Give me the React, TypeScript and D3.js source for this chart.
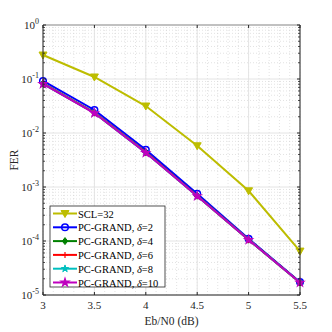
import React from 'react';
import * as d3 from 'd3';

const snr = [3, 3.5, 4, 4.5, 5, 5.5];
const sclFer = [0.278, 0.109, 0.0316, 0.0058, 0.00085, 0.000065];
const grand2 = [0.092, 0.0267, 0.0049, 0.00075, 0.00011, 0.0000174];
const grand4 = [0.083, 0.0238, 0.0044, 0.00069, 0.000106, 0.0000171];
const grand6 = [0.082, 0.0236, 0.0044, 0.00068, 0.000105, 0.000017];
const grand8 = [0.081, 0.0235, 0.0043, 0.00068, 0.000105, 0.000017];
const grand10 = [0.081, 0.0234, 0.0043, 0.00068, 0.000105, 0.000017];
const xTicks = [3, 3.5, 4, 4.5, 5, 5.5];
const yExps = [0, -1, -2, -3, -4, -5];

const series = [
  { name: 'SCL=32', delta: null, values: sclFer, color: '#bdbd00', marker: 'tri' },
  { name: 'PC-GRAND, ', delta: '2', values: grand2, color: '#0000ff', marker: 'circle' },
  { name: 'PC-GRAND, ', delta: '4', values: grand4, color: '#008000', marker: 'diamond' },
  { name: 'PC-GRAND, ', delta: '6', values: grand6, color: '#ff0000', marker: 'plus' },
  { name: 'PC-GRAND, ', delta: '8', values: grand8, color: '#00bfbf', marker: 'star' },
  { name: 'PC-GRAND, ', delta: '10', values: grand10, color: '#bf00bf', marker: 'hex' },
];

const margin = { left: 43, top: 25, right: 32, bottom: 37 };
const W = 332;
const H = 332;
const font = '"Liberation Serif", "Times New Roman", serif';

function Marker({ type, x, y, color }) {
  if (type === 'tri') {
    return <path d={`M${x - 4},${y - 3} L${x + 4},${y - 3} L${x},${y + 4} Z`} fill={color} stroke={color} />;
  }
  if (type === 'circle') {
    return <circle cx={x} cy={y} r={3.3} fill="none" stroke={color} strokeWidth={1.5} />;
  }
  if (type === 'diamond') {
    return <path d={`M${x},${y - 3.5} L${x + 2.7},${y} L${x},${y + 3.5} L${x - 2.7},${y} Z`} fill={color} stroke={color} />;
  }
  if (type === 'plus') {
    return <path d={`M${x - 3},${y} L${x + 3},${y} M${x},${y - 3} L${x},${y + 3}`} stroke={color} strokeWidth={1.2} />;
  }
  if (type === 'star') {
    return <path d={d3.symbol(d3.symbolStar, 16)()} transform={`translate(${x},${y})`} fill={color} stroke={color} />;
  }
  return <path d={d3.symbol(d3.symbolStar, 20)()} transform={`translate(${x},${y})`} fill={color} stroke={color} strokeWidth={1.2} />;
}

export default function App() {
  const x = d3.scaleLinear().domain([3, 5.5]).range([margin.left, W - margin.right]);
  const y = d3.scaleLog().domain([1e-5, 1]).range([H - margin.bottom, margin.top]);
  const line = d3.line<number>().x((_, i) => x(snr[i])).y(d => y(d));

  const minor: number[] = [];
  for (let e = -5; e < 0; e++) {
    for (let k = 2; k < 10; k++) minor.push(k * Math.pow(10, e));
  }
  const xMinor = d3.range(3, 5.51, 0.1);

  const x0 = margin.left;
  const x1 = W - margin.right;
  const y0 = H - margin.bottom;
  const y1 = margin.top;

  const lgX = 50;
  const lgY = 206;
  const rowH = 13.8;

  return (
    <svg width={W} height={H} style={{ position: 'absolute', left: 0, top: 0 }} fontFamily={font}>
      <rect width={W} height={H} fill="#fff" />
      {/* minor grid */}
      {minor.map((v, i) => (
        <line key={'ym' + i} x1={x0} x2={x1} y1={y(v)} y2={y(v)} stroke="#d0d0d0" strokeWidth={0.6} strokeDasharray="1,2" />
      ))}
      {xMinor.map((v, i) => (
        <line key={'xm' + i} x1={x(v)} x2={x(v)} y1={y0} y2={y1} stroke="#d0d0d0" strokeWidth={0.6} strokeDasharray="1,2" />
      ))}
      {/* major grid */}
      {yExps.map(e => (
        <line key={'yg' + e} x1={x0} x2={x1} y1={y(Math.pow(10, e))} y2={y(Math.pow(10, e))} stroke="#e4e4e4" strokeWidth={1} />
      ))}
      {xTicks.map(t => (
        <line key={'xg' + t} x1={x(t)} x2={x(t)} y1={y0} y2={y1} stroke="#e4e4e4" strokeWidth={1} />
      ))}
      {/* series */}
      {series.map((s, si) => (
        <g key={si}>
          <path d={line(s.values) || ''} fill="none" stroke={s.color} strokeWidth={2} />
          {s.values.map((v, i) => (
            <Marker key={i} type={s.marker} x={x(snr[i])} y={y(v)} color={s.color} />
          ))}
        </g>
      ))}
      {/* axes box */}
      <line x1={x0} x2={x1} y1={y1} y2={y1} stroke="#b0b0b0" strokeWidth={1.5} />
      <line x1={x0} x2={x0} y1={y0} y2={y1} stroke="#262626" strokeWidth={1} />
      <line x1={x1} x2={x1} y1={y0} y2={y1} stroke="#262626" strokeWidth={1} />
      <line x1={x0} x2={x1} y1={y0} y2={y0} stroke="#262626" strokeWidth={1} />
      {/* ticks */}
      {xTicks.map(t => (
        <g key={'xt' + t}>
          <line x1={x(t)} x2={x(t)} y1={y0} y2={y0 - 3} stroke="#262626" />
          <line x1={x(t)} x2={x(t)} y1={y1} y2={y1 + 3} stroke="#262626" />
          <text x={x(t)} y={y0 + 14} fontSize={11} textAnchor="middle" fill="#262626">{t}</text>
        </g>
      ))}
      {minor.map((v, i) => (
        <g key={'ymt' + i}>
          <line x1={x0} x2={x0 + 2} y1={y(v)} y2={y(v)} stroke="#262626" strokeWidth={0.8} />
          <line x1={x1} x2={x1 - 2} y1={y(v)} y2={y(v)} stroke="#262626" strokeWidth={0.8} />
        </g>
      ))}
      {yExps.map(e => (
        <g key={'yt' + e}>
          <line x1={x0} x2={x0 + 3} y1={y(Math.pow(10, e))} y2={y(Math.pow(10, e))} stroke="#262626" />
          <line x1={x1} x2={x1 - 3} y1={y(Math.pow(10, e))} y2={y(Math.pow(10, e))} stroke="#262626" />
          <text x={x0 - 4} y={y(Math.pow(10, e)) + 4} fontSize={11} textAnchor="end" fill="#262626">
            10<tspan dy={-5} fontSize={8}>{e}</tspan>
          </text>
        </g>
      ))}
      {/* axis labels */}
      <text x={(x0 + x1) / 2} y={H - 7} fontSize={11.5} textAnchor="middle" fill="#262626">Eb/N0 (dB)</text>
      <text transform={`translate(18,${(y0 + y1) / 2}) rotate(-90)`} fontSize={11.5} textAnchor="middle" fill="#262626">FER</text>
      {/* legend */}
      <rect x={lgX} y={lgY} width={115} height={81} fill="#fff" stroke="#262626" strokeWidth={0.8} />
      {series.map((s, i) => {
        const cy = lgY + 7.5 + i * rowH;
        return (
          <g key={'lg' + i}>
            <line x1={lgX + 3} x2={lgX + 27} y1={cy} y2={cy} stroke={s.color} strokeWidth={2} />
            <Marker type={s.marker} x={lgX + 15} y={cy} color={s.color} />
            <text x={lgX + 28} y={cy + 4} fontSize={10.5} fill="#000">
              {s.name}
              {s.delta && <tspan fontStyle="italic">δ</tspan>}
              {s.delta && `=${s.delta}`}
            </text>
          </g>
        );
      })}
    </svg>
  );
}
